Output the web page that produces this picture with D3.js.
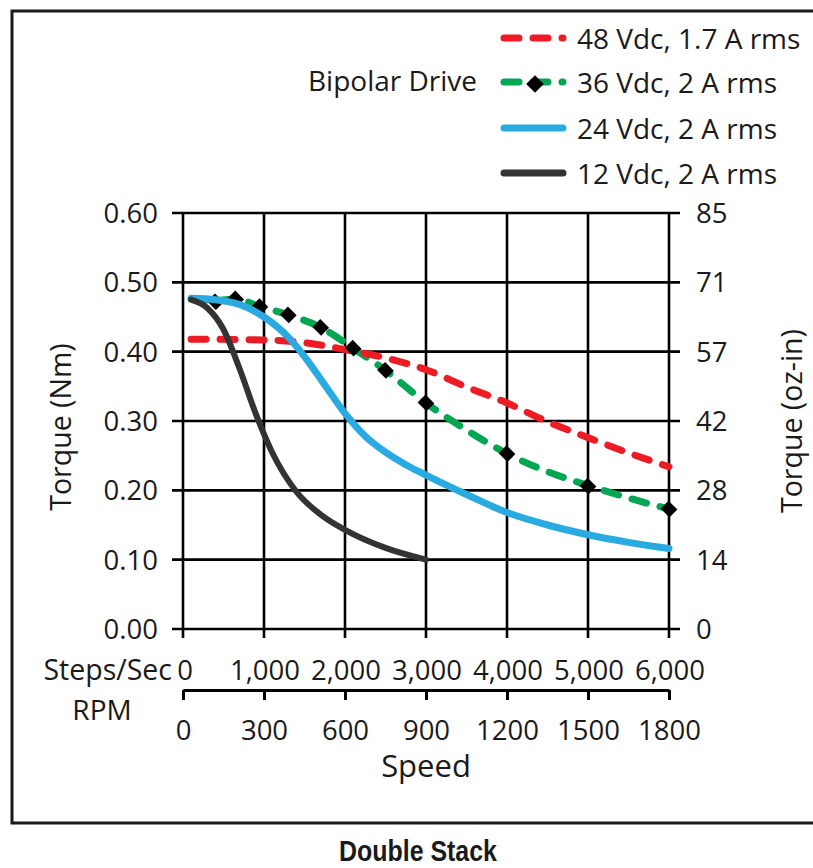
<!DOCTYPE html>
<html>
<head>
<meta charset="utf-8">
<script src="https://cdn.jsdelivr.net/npm/d3@7"></script>
<style>
  body { margin: 0; background: #fff; }
  text { fill: #1a1a1a; }
</style>
</head>
<body>
<svg width="813" height="868"></svg>
<script>
// Series data (speed in steps/sec, torque in Nm)
const steps48 = [100, 1000, 1500, 2000, 2500, 3000, 3500, 4000, 4500, 5000, 5500, 6000];
const torque48 = [0.418, 0.417, 0.413, 0.403, 0.391, 0.374, 0.349, 0.326, 0.299, 0.276, 0.254, 0.234];

const steps36 = [100, 400, 650, 950, 1300, 1700, 2100, 2500, 3000, 3500, 4000, 4500, 5000, 5500, 6000];
const torque36 = [0.476, 0.474, 0.476, 0.465, 0.453, 0.435, 0.405, 0.373, 0.326, 0.287, 0.253, 0.227, 0.207, 0.189, 0.173];
const markerSteps36 = [400, 650, 950, 1300, 1700, 2100, 2500, 3000, 4000, 5000, 6000];
const markerTorque36 = [0.472, 0.476, 0.465, 0.453, 0.435, 0.405, 0.373, 0.326, 0.253, 0.206, 0.173];

const steps24 = [100, 400, 700, 1000, 1300, 1500, 1750, 2000, 2250, 2500, 2750, 3000, 3500, 4000, 4500, 5000, 5500, 6000];
const torque24 = [0.477, 0.475, 0.468, 0.450, 0.421, 0.393, 0.352, 0.311, 0.278, 0.255, 0.237, 0.222, 0.194, 0.168, 0.150, 0.136, 0.125, 0.116];

const steps12 = [100, 300, 500, 700, 900, 1100, 1400, 1700, 2000, 2500, 3000];
const torque12 = [0.475, 0.463, 0.432, 0.375, 0.310, 0.255, 0.198, 0.165, 0.143, 0.117, 0.100];

// Axis ticks and labels
const nmTicks = [0, 0.1, 0.2, 0.3, 0.4, 0.5, 0.6];
const ozLabels = ["0", "14", "28", "42", "57", "71", "85"];
const stepTicks = [0, 1000, 2000, 3000, 4000, 5000, 6000];
const rpmTicks = [0, 300, 600, 900, 1200, 1500, 1800];

const legendLabels = ["48 Vdc, 1.7 A rms", "36 Vdc, 2 A rms", "24 Vdc, 2 A rms", "12 Vdc, 2 A rms"];
const colors = ["#ed1c24", "#00a651", "#29abe2", "#333333"];

const font = "'Open Sans', sans-serif";
const svg = d3.select("svg");

// Outer frame
svg.append("rect")
    .attr("x", 12).attr("y", 11)
    .attr("width", 815).attr("height", 812)
    .attr("fill", "none").attr("stroke", "#1a1a1a").attr("stroke-width", 3);

// Scales
const x = d3.scaleLinear().domain([0, 6000]).range([183, 669]);
const rpm = d3.scaleLinear().domain([0, 1800]).range([183, 669]);
const y = d3.scaleLinear().domain([0, 0.6]).range([629, 213]);

// Grid
const grid = svg.append("g").attr("stroke", "#000").attr("stroke-width", 2.6);
grid.selectAll("line.h")
    .data(nmTicks)
    .join("line")
    .attr("class", "h")
    .attr("x1", x(0) - 11).attr("x2", x(6000) + 11)
    .attr("y1", d => y(d)).attr("y2", d => y(d));
grid.selectAll("line.v")
    .data(stepTicks)
    .join("line")
    .attr("class", "v")
    .attr("x1", d => x(d)).attr("x2", d => x(d))
    .attr("y1", y(0.6)).attr("y2", y(0) + 9);

// helper for plain labels
function label(px, py, str, size, anchor) {
    return svg.append("text")
        .attr("x", px).attr("y", py).attr("dy", "0.36em")
        .attr("text-anchor", anchor || "start")
        .style("font-family", font)
        .style("font-size", size + "px")
        .text(str);
}

// Left and right tick labels
svg.append("g").selectAll("text")
    .data(nmTicks)
    .join("text")
    .attr("x", 158).attr("y", d => y(d))
    .attr("dy", "0.36em")
    .attr("text-anchor", "end")
    .style("font-family", font).style("font-size", "27.5px")
    .text(d => d3.format(".2f")(d));

svg.append("g").selectAll("text")
    .data(nmTicks)
    .join("text")
    .attr("x", 696).attr("y", d => y(d))
    .attr("dy", "0.36em")
    .style("font-family", font).style("font-size", "27.5px")
    .text((d, i) => ozLabels[i]);

// Steps/sec labels
svg.append("g").selectAll("text")
    .data(stepTicks)
    .join("text")
    .attr("x", d => d === 0 ? x(d) + 2 : x(d) + 1)
    .attr("y", 670)
    .attr("dy", "0.36em")
    .attr("text-anchor", "middle")
    .style("font-family", font).style("font-size", "27.5px")
    .text(d => d3.format(",")(d));

// RPM axis
const rpmAxis = svg.append("g")
    .attr("transform", "translate(0,690)")
    .call(d3.axisBottom(rpm).tickValues(rpmTicks).tickFormat(d3.format("d"))
        .tickSize(10).tickSizeOuter(0));
rpmAxis.selectAll("path, line").attr("stroke", "#000").attr("stroke-width", 3);
rpmAxis.selectAll("text")
    .attr("y", 40).attr("dy", "0.36em")
    .style("font-family", font).style("font-size", "27.5px")
    .style("fill", "#1a1a1a");

// Axis titles
label(172, 670, "Steps/Sec", 28.5, "end");
label(102, 710, "RPM", 28, "middle");
label(426, 766, "Speed", 31, "middle");
svg.append("text").attr("transform", "translate(61,427) rotate(-90)").attr("dy", "0.36em")
    .attr("text-anchor", "middle")
    .style("font-family", font).style("font-size", "28.5px")
    .text("Torque (Nm)");
svg.append("text").attr("transform", "translate(792,421) rotate(-90)").attr("dy", "0.36em")
    .attr("text-anchor", "middle")
    .style("font-family", font).style("font-size", "28.5px")
    .text("Torque (oz-in)");

svg.append("text")
    .attr("transform", "translate(418,861) scale(0.86,1)")
    .attr("text-anchor", "middle")
    .style("font-family", "'Liberation Sans', Arial, sans-serif")
    .style("font-weight", "bold").style("font-size", "29px")
    .text("Double Stack");

// Curves
const line = d3.line()
    .x(d => x(d[0]))
    .y(d => y(d[1]))
    .curve(d3.curveMonotoneX);

const zip = (a, b) => a.map((v, i) => [v, b[i]]);

const plot = svg.append("g").attr("fill", "none").attr("stroke-linecap", "round");

plot.append("path")
    .attr("d", line(zip(steps36, torque36)))
    .attr("stroke", colors[1]).attr("stroke-width", 7)
    .attr("stroke-dasharray", "15,14");

plot.append("path")
    .attr("d", line(zip(steps48, torque48)))
    .attr("stroke", colors[0]).attr("stroke-width", 7)
    .attr("stroke-dasharray", "15,14");

const diamond = d3.symbol().type(d3.symbolSquare).size(155);
svg.append("g").selectAll("path")
    .data(zip(markerSteps36, markerTorque36))
    .join("path")
    .attr("d", diamond)
    .attr("transform", d => `translate(${x(d[0])},${y(d[1])}) rotate(45) scale(1,0.9)`)
    .attr("fill", "#000");

const plot2 = svg.append("g").attr("fill", "none").attr("stroke-linecap", "round");
plot2.append("path")
    .attr("d", line(zip(steps24, torque24)))
    .attr("stroke", colors[2]).attr("stroke-width", 7);

plot2.append("path")
    .attr("d", line(zip(steps12, torque12)))
    .attr("stroke", colors[3]).attr("stroke-width", 6);

// Legend
const legendY = [38, 82, 128, 173];
const legend = svg.append("g");
label(308, 81, "Bipolar Drive", 28);

legendLabels.forEach((text, i) => {
    legend.append("line")
        .attr("x1", 504).attr("x2", 563)
        .attr("y1", legendY[i]).attr("y2", legendY[i])
        .attr("stroke", colors[i]).attr("stroke-width", 7)
        .attr("stroke-linecap", "round")
        .attr("stroke-dasharray", i < 2 ? "15,14" : null);
    label(577, legendY[i] + 1, text, 28);
});
legend.append("path")
    .attr("d", diamond)
    .attr("transform", `translate(535,${legendY[1] + 2}) rotate(45)`)
    .attr("fill", "#000");
</script>
</body>
</html>
